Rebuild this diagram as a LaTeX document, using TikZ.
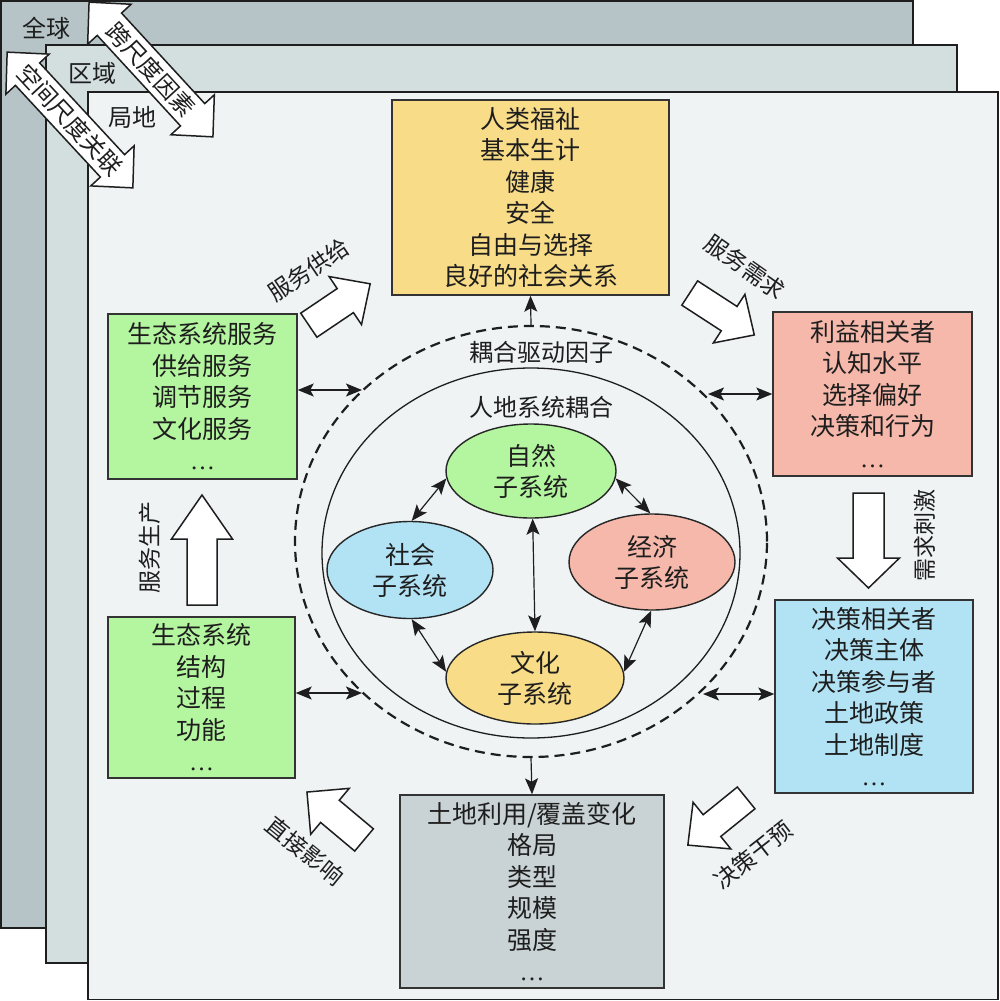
\documentclass[tikz,border=0pt]{standalone}
\usepackage{fontspec}
\setmainfont{Noto Sans CJK SC}
\newfontfamily\latinserif{Liberation Serif}
\usetikzlibrary{shapes.geometric,arrows.meta}
\definecolor{cglobal}{HTML}{B6C4C7}
\definecolor{cregion}{HTML}{D3DEDF}
\definecolor{clocal}{HTML}{EFF3F4}
\definecolor{cyellow}{HTML}{F8DC88}
\definecolor{cgreen}{HTML}{B4F5A0}
\definecolor{cpink}{HTML}{F5B8AA}
\definecolor{cblue}{HTML}{B2E3F4}
\definecolor{cgray}{HTML}{C9D2D4}
\definecolor{ink}{HTML}{1E1E1E}
\newcommand{\mydots}{{\latinserif\char"2026}}
% single block arrow: x y angle length shaft headwidth headlength
\newcommand{\blockarrow}[7]{%
  \begin{scope}[shift={(#1,#2)},rotate=#3]
    \draw[blockarrowstyle] (-#4/2,-#5/2) -- (#4/2-#7,-#5/2) -- (#4/2-#7,-#6/2) -- (#4/2,0) -- (#4/2-#7,#6/2) -- (#4/2-#7,#5/2) -- (-#4/2,#5/2) -- cycle;
  \end{scope}}
% double block arrow
\newcommand{\twoarrow}[7]{%
  \begin{scope}[shift={(#1,#2)},rotate=#3]
    \draw[blockarrowstyle] (-#4/2,0) -- (-#4/2+#7,#6/2) -- (-#4/2+#7,#5/2) -- (#4/2-#7,#5/2) -- (#4/2-#7,#6/2) -- (#4/2,0) -- (#4/2-#7,-#6/2) -- (#4/2-#7,-#5/2) -- (-#4/2+#7,-#5/2) -- (-#4/2+#7,-#6/2) -- cycle;
  \end{scope}}
\begin{document}
\begin{tikzpicture}[x=1pt,y=-1pt,
  layerbox/.style={draw=ink, line width=1.8pt},
  blockarrowstyle/.style={draw=ink, fill=white, line width=1.5pt, line join=miter},
  infobox/.style={draw=black!80, line width=1.4pt, rectangle, inner sep=0pt, align=center, text=ink, font=\fontsize{25}{31.5}\selectfont},
  subsys/.style={draw=black!85, line width=1.4pt, ellipse, inner sep=0pt, align=center, text=ink, font=\fontsize{25}{31}\selectfont},
  lbl/.style={text=ink, inner sep=0pt, font=\fontsize{24}{28}\selectfont},
  arlbl/.style={text=ink, inner sep=0pt, font=\fontsize{23}{28}\selectfont},
  scalelbl/.style={text=ink, inner sep=0pt, font=\fontsize{23.5}{26}\selectfont},
  dbl/.style={line width=1.2pt, draw=ink, {Stealth[length=16pt,width=13pt,inset=3.5pt]}-{Stealth[length=16pt,width=13pt,inset=3.5pt]}},
  sgl/.style={line width=1.2pt, draw=ink, -{Stealth[length=16pt,width=13pt,inset=3.5pt]}}]
\useasboundingbox (0,0) rectangle (1000,1001);
% layers
\draw[layerbox, fill=cglobal] (0.9,0.9) rectangle (913,928);
\draw[layerbox, fill=cregion] (46,45) rectangle (957,963);
\draw[layerbox, fill=clocal] (88,92) rectangle (998,999.5);
\node[lbl] (tglobal) at (46,28) {全球};
\node[lbl] (tregion) at (92,73) {区域};
\node[lbl] (tlocal) at (132,117) {局地};
% scale arrows
\twoarrow{151}{69.5}{-47.4}{183}{33}{59}{30}
\node[scalelbl, rotate=-47.4] (cross) at (151,69.5) {跨尺度因素};
\twoarrow{70}{120}{-47.2}{185}{33}{59}{30}
\node[scalelbl, rotate=-47.2] (spatial) at (70,120) {空间尺度关联};
% boxes
\node[infobox, fill=cyellow, minimum width=277pt, minimum height=195pt] (welfare) at (530.5,197.5)
  {人类福祉\\基本生计\\健康\\安全\\自由与选择\\良好的社会关系};
\node[infobox, fill=cgreen, minimum width=189pt, minimum height=165pt] (gtop) at (202.5,396.5)
  {生态系统服务\\供给服务\\调节服务\\文化服务\\\mydots};
\node[infobox, fill=cpink, minimum width=199pt, minimum height=164pt] (pink) at (872.5,394)
  {利益相关者\\认知水平\\选择偏好\\决策和行为\\\mydots};
\node[infobox, fill=cblue, minimum width=198pt, minimum height=193pt] (blue) at (874,696.5)
  {决策相关者\\决策主体\\决策参与者\\土地政策\\土地制度\\\mydots};
\node[infobox, fill=cgreen, minimum width=187pt, minimum height=161pt] (gbot) at (201.5,697.5)
  {生态系统\\结构\\过程\\功能\\\mydots};
\node[infobox, fill=cgray, minimum width=264pt, minimum height=193pt] (land) at (532,891.5)
  {土地利用/覆盖变化\\格局\\类型\\规模\\强度\\\mydots};
% coupling circles
\node[draw=ink, line width=2.2pt, dash pattern=on 10pt off 6pt, ellipse, inner sep=0pt, minimum width=472pt, minimum height=431pt] (drive) at (531,541.5) {};
\node[draw=ink, line width=1.3pt, ellipse, inner sep=0pt, minimum width=418pt, minimum height=370pt] (coupling) at (531,553) {};
\node[lbl] (tdrive) at (541,352) {耦合驱动因子};
\node[lbl] (tcoupling) at (541,407) {人地系统耦合};
% subsystems
\node[subsys, fill=cgreen, minimum width=170pt, minimum height=94pt] (ziran) at (531,471) {自然\\子系统};
\node[subsys, fill=cblue, minimum width=166pt, minimum height=97pt] (shehui) at (410,570) {社会\\子系统};
\node[subsys, fill=cpink, minimum width=166pt, minimum height=96pt] (jingji) at (652,562) {经济\\子系统};
\node[subsys, fill=cyellow, minimum width=178pt, minimum height=92pt] (wenhua) at (535,678) {文化\\子系统};
\draw[dbl] (ziran.185) -- (shehui.88);
\draw[dbl] (ziran.-5) -- (jingji.92);
\draw[dbl] (ziran.-88) -- (wenhua.north);
\draw[dbl] (shehui.-88) -- (wenhua.176);
\draw[dbl] (jingji.-91) -- (wenhua.4);
% connectors to outer boxes
\coordinate (dL1) at (362,390);
\coordinate (dR1) at (708,394);
\coordinate (dL2) at (362,693);
\coordinate (dR2) at (703,694);
\draw[dbl] (gtop.east |- dL1) -- (dL1);
\draw[dbl] (dR1) -- (pink.west |- dR1);
\draw[dbl] (gbot.east |- dL2) -- (dL2);
\draw[dbl] (dR2) -- (blue.west |- dR2);
\draw[sgl] (drive.north) -- (welfare.south);
\draw[sgl] (drive.south) -- (land.north);
% block arrows
\blockarrow{339.5}{304.5}{34}{74}{29}{58}{30}
\node[arlbl, rotate=34] (supply) at (309,270) {服务供给};
\blockarrow{722}{314}{-33}{77}{29}{58}{30}
\node[arlbl, rotate=-35] (demand) at (745,267) {服务需求};
\blockarrow{868.5}{540.5}{-90}{95}{31}{62}{30}
\node[arlbl, rotate=90] (stim) at (925,535) {需求刺激};
\blockarrow{202}{550}{90}{110}{30}{61}{44}
\node[arlbl, rotate=90] (produce) at (150,547) {服务生产};
\blockarrow{717}{821.5}{219}{75}{28}{60}{31}
\node[arlbl, rotate=38] (decide) at (753,855) {决策干预};
\blockarrow{335.5}{816}{140}{74.5}{29}{60}{30}
\node[arlbl, rotate=-39] (direct) at (305,851) {直接影响};
\end{tikzpicture}
\end{document}
